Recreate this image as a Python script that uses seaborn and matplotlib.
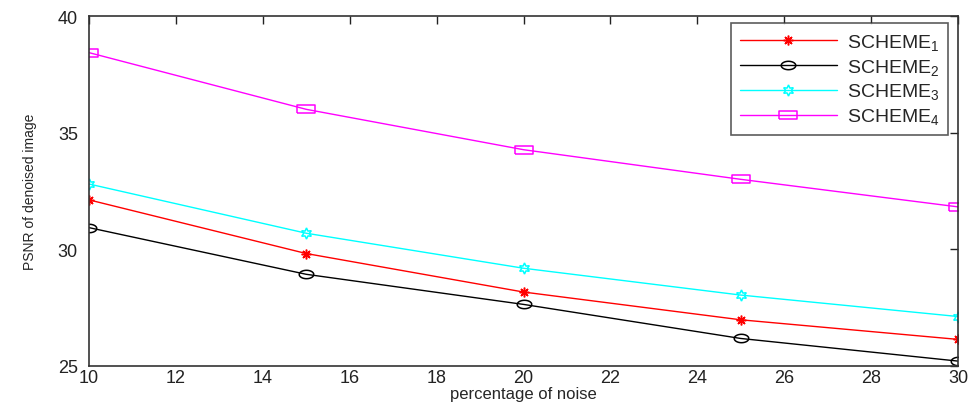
import numpy as np
import pandas as pd
import matplotlib
matplotlib.use("Agg")
import matplotlib.pyplot as plt
import seaborn as sns

noise = [10, 15, 20, 25, 30]
scheme1 = [32.12, 29.82, 28.17, 26.98, 26.14]
scheme2 = [30.93, 28.93, 27.64, 26.18, 25.21]
scheme3 = [32.80, 30.69, 29.19, 28.04, 27.12]
scheme4 = [38.43, 36.00, 34.27, 33.00, 31.82]
labels = [r"SCHEME$_1$", r"SCHEME$_2$", r"SCHEME$_3$", r"SCHEME$_4$"]
xticks = list(range(10, 31, 2))
yticks = [25, 30, 35, 40]

sns.set_style("white")
plt.rcParams["font.family"] = ["Liberation Sans", "DejaVu Sans"]
plt.rcParams["mathtext.default"] = "regular"

df = pd.DataFrame({
    "noise": noise * 4,
    "psnr": scheme1 + scheme2 + scheme3 + scheme4,
    "scheme": sum([[l] * len(noise) for l in labels], []),
})

fig = plt.figure(figsize=(9.7, 4.06), dpi=100)
ax = fig.add_axes([89 / 970, 1 - 367 / 406, (958 - 89) / 970, (367 - 17) / 406])

t = np.linspace(0, 2 * np.pi, 30)
ellipse = np.column_stack([1.3 * np.cos(t), 0.75 * np.sin(t)])
rect = [(-1.3, -0.62), (1.3, -0.62), (1.3, 0.62), (-1.3, 0.62), (-1.3, -0.62)]

colors = ["#ff0000", "#000000", "#00ffff", "#ff00ff"]
markers = [(8, 2, 0), ellipse, (6, 1, 0), rect]
sizes = [7, 10.5, 8, 12.5]

for lab, c, m, s in zip(labels, colors, markers, sizes):
    sub = df[df["scheme"] == lab]
    sns.lineplot(data=sub, x="noise", y="psnr", ax=ax, color=c, marker=m,
                 markersize=s, markerfacecolor="none", markeredgecolor=c,
                 markeredgewidth=1.1, linewidth=1.0, label=lab)

ax.set_xlim(10, 30)
ax.set_ylim(25, 40)
ax.set_xticks(xticks)
ax.set_yticks(yticks)
ax.tick_params(direction="in", top=True, right=True, length=6, width=1,
               labelsize=13, colors="#222222")
ax.tick_params(axis="x", pad=2)
ax.tick_params(axis="y", pad=8)
for sp in ax.spines.values():
    sp.set_visible(True)
    sp.set_color("#333333")
    sp.set_linewidth(1.2)
ax.set_xlabel("percentage of noise", fontsize=12, labelpad=0)
ax.set_ylabel("PSNR of denoised image", fontsize=10, labelpad=15)

leg = ax.legend(loc="upper right", bbox_to_anchor=(0.9885, 0.98), fontsize=14,
                frameon=True, fancybox=False, handlelength=5.0,
                borderpad=0.45, borderaxespad=0, labelspacing=0.25,
                handletextpad=0.5)
leg.get_frame().set_edgecolor("#333333")
leg.get_frame().set_linewidth(1.2)

fig.savefig("out.png", dpi=100)
